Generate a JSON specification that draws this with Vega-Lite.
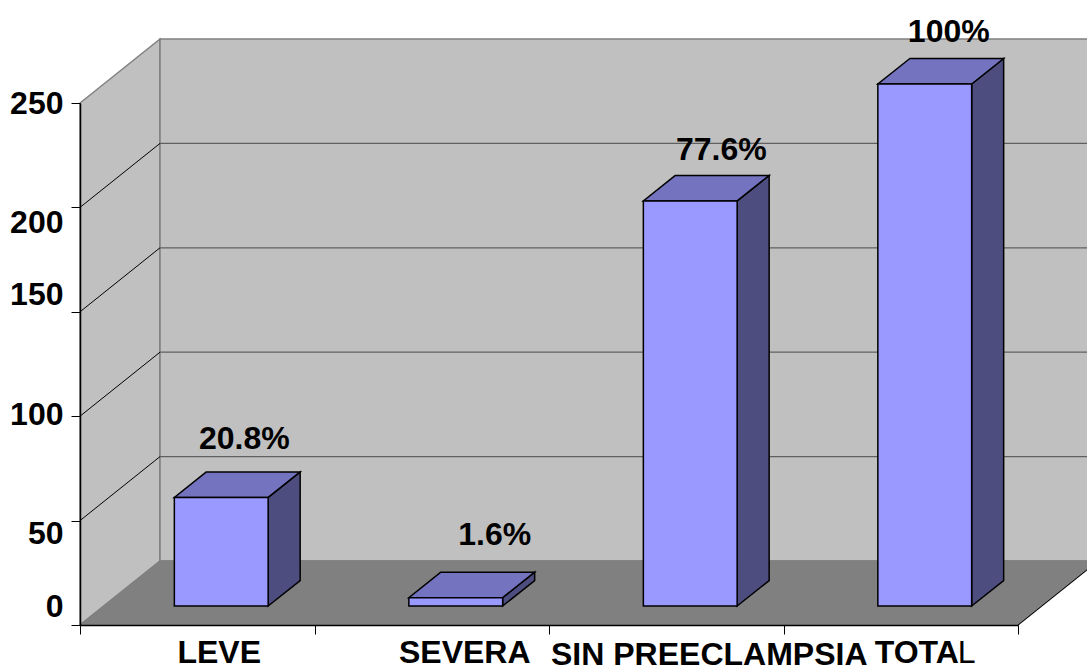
{
  "$schema": "https://vega.github.io/schema/vega-lite/v6.json",
  "width": 938,
  "height": 522,
  "autosize": "none",
  "padding": {"left": 80, "top": 103, "right": 69, "bottom": 41},
  "background": "white",
  "config": {"view": {"stroke": null}, "text": {"font": "Liberation Sans", "fontSize": 32, "fontWeight": "bold", "color": "#000000"}},
  "datasets": {
    "bars": [
      {"cat": "LEVE", "pos": 0.5, "left": 0.3, "right": 0.7, "value": 52, "pct": "20.8%"},
      {"cat": "SEVERA", "pos": 1.5, "left": 1.3, "right": 1.7, "value": 4, "pct": "1.6%"},
      {"cat": "SIN PREECLAMPSIA", "pos": 2.5, "left": 2.3, "right": 2.7, "value": 194, "pct": "77.6%"},
      {"cat": "TOTAL", "pos": 3.5, "left": 3.3, "right": 3.7, "value": 250, "pct": "100%"}
    ],
    "sides": [
      {"cat": "LEVE", "u": 0.7, "low": 0, "high": 52},
      {"cat": "LEVE", "u": 0.8365, "low": 12.2, "high": 64.2},
      {"cat": "SEVERA", "u": 1.7, "low": 0, "high": 4},
      {"cat": "SEVERA", "u": 1.8365, "low": 12.2, "high": 16.2},
      {"cat": "SIN PREECLAMPSIA", "u": 2.7, "low": 0, "high": 194},
      {"cat": "SIN PREECLAMPSIA", "u": 2.8365, "low": 12.2, "high": 206.2},
      {"cat": "TOTAL", "u": 3.7, "low": 0, "high": 250},
      {"cat": "TOTAL", "u": 3.8365, "low": 12.2, "high": 262.2}
    ],
    "tops": [
      {"cat": "LEVE", "level": 52, "left": 0.3, "right": 0.7},
      {"cat": "LEVE", "level": 64.2, "left": 0.4365, "right": 0.8365},
      {"cat": "SEVERA", "level": 4, "left": 1.3, "right": 1.7},
      {"cat": "SEVERA", "level": 16.2, "left": 1.4365, "right": 1.8365},
      {"cat": "SIN PREECLAMPSIA", "level": 194, "left": 2.3, "right": 2.7},
      {"cat": "SIN PREECLAMPSIA", "level": 206.2, "left": 2.4365, "right": 2.8365},
      {"cat": "TOTAL", "level": 250, "left": 3.3, "right": 3.7},
      {"cat": "TOTAL", "level": 262.2, "left": 3.4365, "right": 3.8365}
    ],
    "ticks": [{"tick": 0}, {"tick": 50}, {"tick": 100}, {"tick": 150}, {"tick": 200}, {"tick": 250}]
  },
  "encoding": {
    "x": {"type": "quantitative"},
    "y": {"type": "quantitative"}
  },
  "resolve": {"scale": {"x": "shared", "y": "shared"}},
  "layer": [
    {
      "description": "left wall",
      "data": {"values": [{"u": 0, "low": 0, "high": 250}, {"u": 0.3412, "low": 30.65, "high": 280.65}]},
      "mark": {"type": "area", "fill": "#C0C0C0", "stroke": "#808080", "strokeWidth": 1.5},
      "encoding": {
        "x": {"field": "u", "type": "quantitative", "scale": {"domain": [0, 4], "nice": false, "zero": false},
          "axis": {"values": [0, 1, 2, 3, 4], "labels": false, "title": null, "grid": false, "tickSize": 9, "tickColor": "#000000", "domainColor": "#000000", "domainWidth": 1.5, "tickWidth": 1, "zindex": 1}},
        "y": {"field": "low", "type": "quantitative", "scale": {"domain": [0, 250], "nice": false, "zero": false},
          "axis": {"values": [0, 50, 100, 150, 200, 250], "title": null, "grid": false, "tickSize": 9, "tickColor": "#000000", "domainColor": "#000000", "domainWidth": 1.5, "tickWidth": 1, "zindex": 1,
            "labelFont": "Liberation Sans", "labelFontSize": 32, "labelFontWeight": "bold", "labelColor": "#000000", "labelPadding": 8, "labelBound": false, "labelFlush": false, "labelOverlap": false,
            "labelOffset": {"expr": "datum.value == 200 ? 15 : datum.value == 150 ? -17 : datum.value == 100 ? -2 : datum.value == 50 ? 13 : datum.value == 0 ? -19 : 0"}}},
        "y2": {"field": "high"}
      }
    },
    {
      "description": "back wall",
      "data": {"values": [{"left": 0.3412, "right": 4.3412, "low": 30.65, "high": 280.65}]},
      "mark": {"type": "rect", "fill": "#C0C0C0", "stroke": "#808080", "strokeWidth": 1.5},
      "encoding": {
        "x": {"field": "left", "type": "quantitative"},
        "x2": {"field": "right"},
        "y": {"field": "low", "type": "quantitative"},
        "y2": {"field": "high"}
      }
    },
    {
      "description": "back wall grid lines",
      "data": {"name": "ticks"},
      "transform": [{"filter": "datum.tick > 0 && datum.tick < 250"}],
      "mark": {"type": "rule", "stroke": "#606060", "strokeWidth": 1.2, "xOffset": 80, "x2Offset": 80, "yOffset": -64, "y2Offset": -64},
      "encoding": {
        "x": {"datum": 0, "type": "quantitative"},
        "x2": {"datum": 4},
        "y": {"field": "tick", "type": "quantitative"}
      }
    },
    {
      "description": "left wall grid lines",
      "data": {"name": "ticks"},
      "transform": [{"filter": "datum.tick > 0 && datum.tick < 250"}],
      "mark": {"type": "rule", "stroke": "#000000", "strokeWidth": 1, "x2Offset": 80, "y2Offset": -64},
      "encoding": {
        "x": {"datum": 0, "type": "quantitative"},
        "x2": {"datum": 0},
        "y": {"field": "tick", "type": "quantitative"},
        "y2": {"field": "tick"}
      }
    },
    {
      "description": "floor",
      "data": {"values": [{"level": 0, "left": 0, "right": 4}, {"level": 30.65, "left": 0.3412, "right": 4.3412}]},
      "mark": {"type": "area", "orient": "horizontal", "fill": "#808080", "stroke": "#808080", "strokeWidth": 1.5},
      "encoding": {
        "y": {"field": "level", "type": "quantitative"},
        "x": {"field": "left", "type": "quantitative"},
        "x2": {"field": "right"}
      }
    },
    {
      "description": "right edge of the floor",
      "mark": {"type": "rule", "stroke": "#000000", "strokeWidth": 1, "x2Offset": 80, "y2Offset": -64},
      "data": {"values": [{"tick": 0}]},
      "encoding": {
        "x": {"datum": 4, "type": "quantitative"},
        "x2": {"datum": 4},
        "y": {"field": "tick", "type": "quantitative"},
        "y2": {"field": "tick"}
      }
    },
    {
      "description": "bar side faces",
      "data": {"name": "sides"},
      "mark": {"type": "area", "fill": "#4D4D80", "stroke": "#000000", "strokeWidth": 1.5, "xOffset": 24, "yOffset": -19, "y2Offset": -19},
      "encoding": {
        "detail": {"field": "cat"},
        "x": {"field": "u", "type": "quantitative"},
        "y": {"field": "low", "type": "quantitative"},
        "y2": {"field": "high"}
      }
    },
    {
      "description": "bar top faces",
      "data": {"name": "tops"},
      "mark": {"type": "area", "orient": "horizontal", "fill": "#7373BF", "stroke": "#000000", "strokeWidth": 1.5, "xOffset": 24, "x2Offset": 24, "yOffset": -19},
      "encoding": {
        "detail": {"field": "cat"},
        "y": {"field": "level", "type": "quantitative"},
        "x": {"field": "left", "type": "quantitative"},
        "x2": {"field": "right"}
      }
    },
    {
      "description": "bar front faces",
      "data": {"name": "bars"},
      "mark": {"type": "rect", "fill": "#9999FF", "stroke": "#000000", "strokeWidth": 1.5, "xOffset": 24, "x2Offset": 24, "yOffset": -19, "y2Offset": -19},
      "encoding": {
        "x": {"field": "left", "type": "quantitative"},
        "x2": {"field": "right"},
        "y": {"field": "value", "type": "quantitative"},
        "y2": {"datum": 0}
      }
    },
    {
      "data": {"name": "bars"},
      "transform": [{"filter": "datum.cat == 'LEVE'"}],
      "mark": {"type": "text", "dx": 47, "dy": -77},
      "encoding": {"x": {"field": "pos", "type": "quantitative"}, "y": {"field": "value", "type": "quantitative"}, "text": {"field": "pct"}}
    },
    {
      "data": {"name": "bars"},
      "transform": [{"filter": "datum.cat == 'SEVERA'"}],
      "mark": {"type": "text", "dx": 63, "dy": -82},
      "encoding": {"x": {"field": "pos", "type": "quantitative"}, "y": {"field": "value", "type": "quantitative"}, "text": {"field": "pct"}}
    },
    {
      "data": {"name": "bars"},
      "transform": [{"filter": "datum.cat == 'SIN PREECLAMPSIA'"}],
      "mark": {"type": "text", "dx": 55, "dy": -70},
      "encoding": {"x": {"field": "pos", "type": "quantitative"}, "y": {"field": "value", "type": "quantitative"}, "text": {"field": "pct"}}
    },
    {
      "data": {"name": "bars"},
      "transform": [{"filter": "datum.cat == 'TOTAL'"}],
      "mark": {"type": "text", "dx": 48, "dy": -71},
      "encoding": {"x": {"field": "pos", "type": "quantitative"}, "y": {"field": "value", "type": "quantitative"}, "text": {"field": "pct"}}
    },
    {
      "data": {"name": "bars"},
      "transform": [{"filter": "datum.cat == 'LEVE'"}],
      "mark": {"type": "text", "dx": 22, "dy": 28},
      "encoding": {"x": {"field": "pos", "type": "quantitative"}, "y": {"datum": 0, "type": "quantitative"}, "text": {"field": "cat"}}
    },
    {
      "data": {"name": "bars"},
      "transform": [{"filter": "datum.cat == 'SEVERA'"}],
      "mark": {"type": "text", "dx": 33, "dy": 28},
      "encoding": {"x": {"field": "pos", "type": "quantitative"}, "y": {"datum": 0, "type": "quantitative"}, "text": {"field": "cat"}}
    },
    {
      "data": {"name": "bars"},
      "transform": [{"filter": "datum.cat == 'SIN PREECLAMPSIA'"}],
      "mark": {"type": "text", "dx": 43, "dy": 30},
      "encoding": {"x": {"field": "pos", "type": "quantitative"}, "y": {"datum": 0, "type": "quantitative"}, "text": {"field": "cat"}}
    },
    {
      "description": "TOTAL label, bold part",
      "data": {"values": [{"pos": 3.5, "part": "TOTA"}]},
      "mark": {"type": "text", "align": "left", "dx": -26, "dy": 28},
      "encoding": {"x": {"field": "pos", "type": "quantitative"}, "y": {"datum": 0, "type": "quantitative"}, "text": {"field": "part"}}
    },
    {
      "description": "TOTAL label, final regular letter",
      "data": {"values": [{"pos": 3.5, "part": "L"}]},
      "mark": {"type": "text", "align": "left", "fontWeight": "normal", "dx": 57, "dy": 28},
      "encoding": {"x": {"field": "pos", "type": "quantitative"}, "y": {"datum": 0, "type": "quantitative"}, "text": {"field": "part"}}
    }
  ]
}
